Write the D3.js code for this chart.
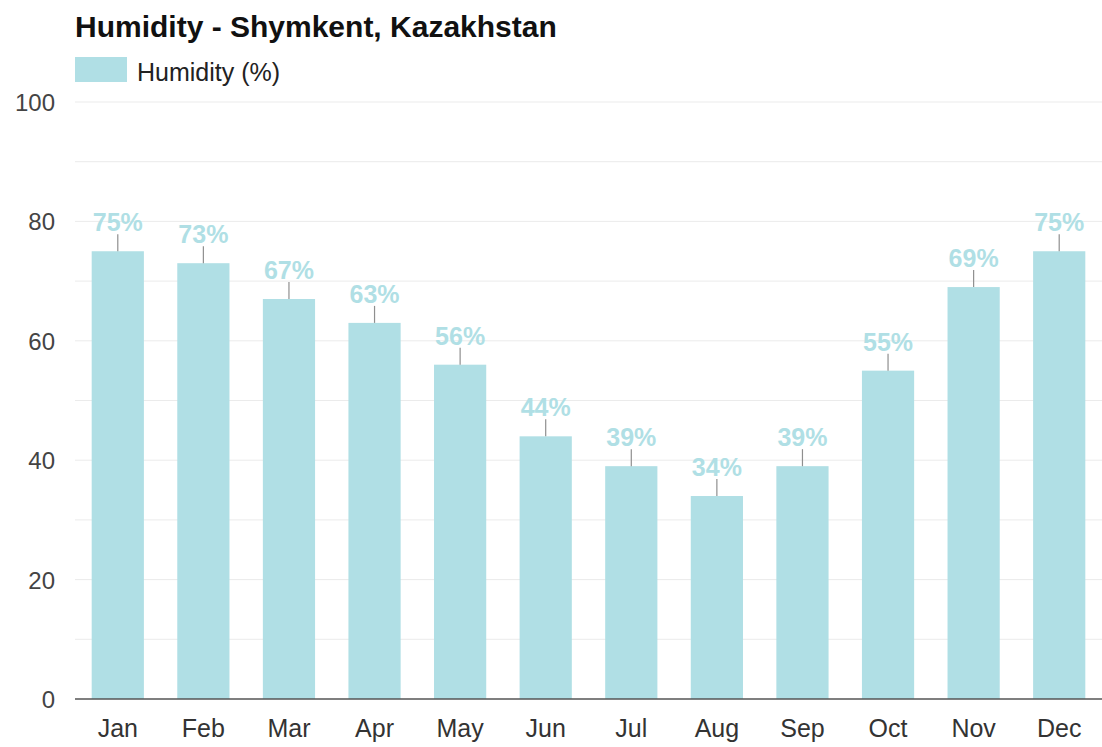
<!DOCTYPE html>
<html lang="en">
<head>
<meta charset="utf-8">
<title>Humidity - Shymkent, Kazakhstan</title>
<script src="https://d3js.org/d3.v7.min.js"></script>
<style>
  body { margin: 0; background: #fff; }
  text { font-family: "Liberation Sans", Arial, sans-serif; }
</style>
</head>
<body>
<div id="chart"></div>
<script>
var months = ["Jan", "Feb", "Mar", "Apr", "May", "Jun", "Jul", "Aug", "Sep", "Oct", "Nov", "Dec"];
var humidity = [75, 73, 67, 63, 56, 44, 39, 34, 39, 55, 69, 75];
var yTicks = [0, 20, 40, 60, 80, 100];
var gridTicks = [10, 20, 30, 40, 50, 60, 70, 80, 90, 100];

var w = 1102, h = 747;
var plotLeft = 75, plotRight = 1102, plotTop = 102, plotBottom = 699;

var svg = d3.select("#chart").append("svg")
  .attr("width", w).attr("height", h);

var x = d3.scaleBand().domain(months).range([plotLeft, plotRight]).paddingInner(0.39).paddingOuter(0.195);
var y = d3.scaleLinear().domain([0, 100]).range([plotBottom, plotTop]);

// grid
svg.append("g").selectAll("line")
  .data(gridTicks).enter().append("line")
  .attr("x1", plotLeft).attr("x2", plotRight)
  .attr("y1", d => y(d)).attr("y2", d => y(d))
  .attr("stroke", "#ebebeb").attr("stroke-width", 1);

// y labels
svg.append("g").selectAll("text")
  .data(yTicks).enter().append("text")
  .attr("x", 55).attr("y", d => y(d) + 9)
  .attr("text-anchor", "end")
  .attr("font-size", 24).attr("fill", "#444")
  .text(d => d);

// bars
var data = months.map((m, i) => ({ m: m, v: humidity[i] }));

svg.append("g").selectAll("rect")
  .data(data).enter().append("rect")
  .attr("x", d => x(d.m)).attr("width", x.bandwidth())
  .attr("y", d => y(d.v)).attr("height", d => y(0) - y(d.v))
  .attr("fill", "#b0dfe5");

// leader lines
svg.append("g").selectAll("line")
  .data(data).enter().append("line")
  .attr("x1", d => x(d.m) + x.bandwidth() / 2).attr("x2", d => x(d.m) + x.bandwidth() / 2)
  .attr("y1", d => y(d.v)).attr("y2", d => y(d.v) - 17)
  .attr("stroke", "#8f8f8f").attr("stroke-width", 1.2);

// value labels
svg.append("g").selectAll("text")
  .data(data).enter().append("text")
  .attr("x", d => x(d.m) + x.bandwidth() / 2).attr("y", d => y(d.v) - 20)
  .attr("text-anchor", "middle")
  .attr("font-size", 25).attr("font-weight", "bold").attr("fill", "#b0dfe5")
  .text(d => d.v + "%");

// x axis line
svg.append("line")
  .attr("x1", plotLeft).attr("x2", plotRight).attr("y1", plotBottom).attr("y2", plotBottom)
  .attr("stroke", "#555").attr("stroke-width", 1.5);

// x labels
svg.append("g").selectAll("text")
  .data(months).enter().append("text")
  .attr("x", d => x(d) + x.bandwidth() / 2).attr("y", 737)
  .attr("text-anchor", "middle")
  .attr("font-size", 25).attr("fill", "#333")
  .text(d => d);

// title + legend
svg.append("text").text("Humidity - Shymkent, Kazakhstan")
  .attr("x", 75).attr("y", 37)
  .attr("font-size", 30).attr("font-weight", "bold").attr("fill", "#111");

svg.append("rect").attr("x", 75).attr("y", 57).attr("width", 52).attr("height", 25).attr("fill", "#b0dfe5");
svg.append("text").text("Humidity (%)")
  .attr("x", 137).attr("y", 81)
  .attr("font-size", 25).attr("fill", "#222");
</script>
</body>
</html>
